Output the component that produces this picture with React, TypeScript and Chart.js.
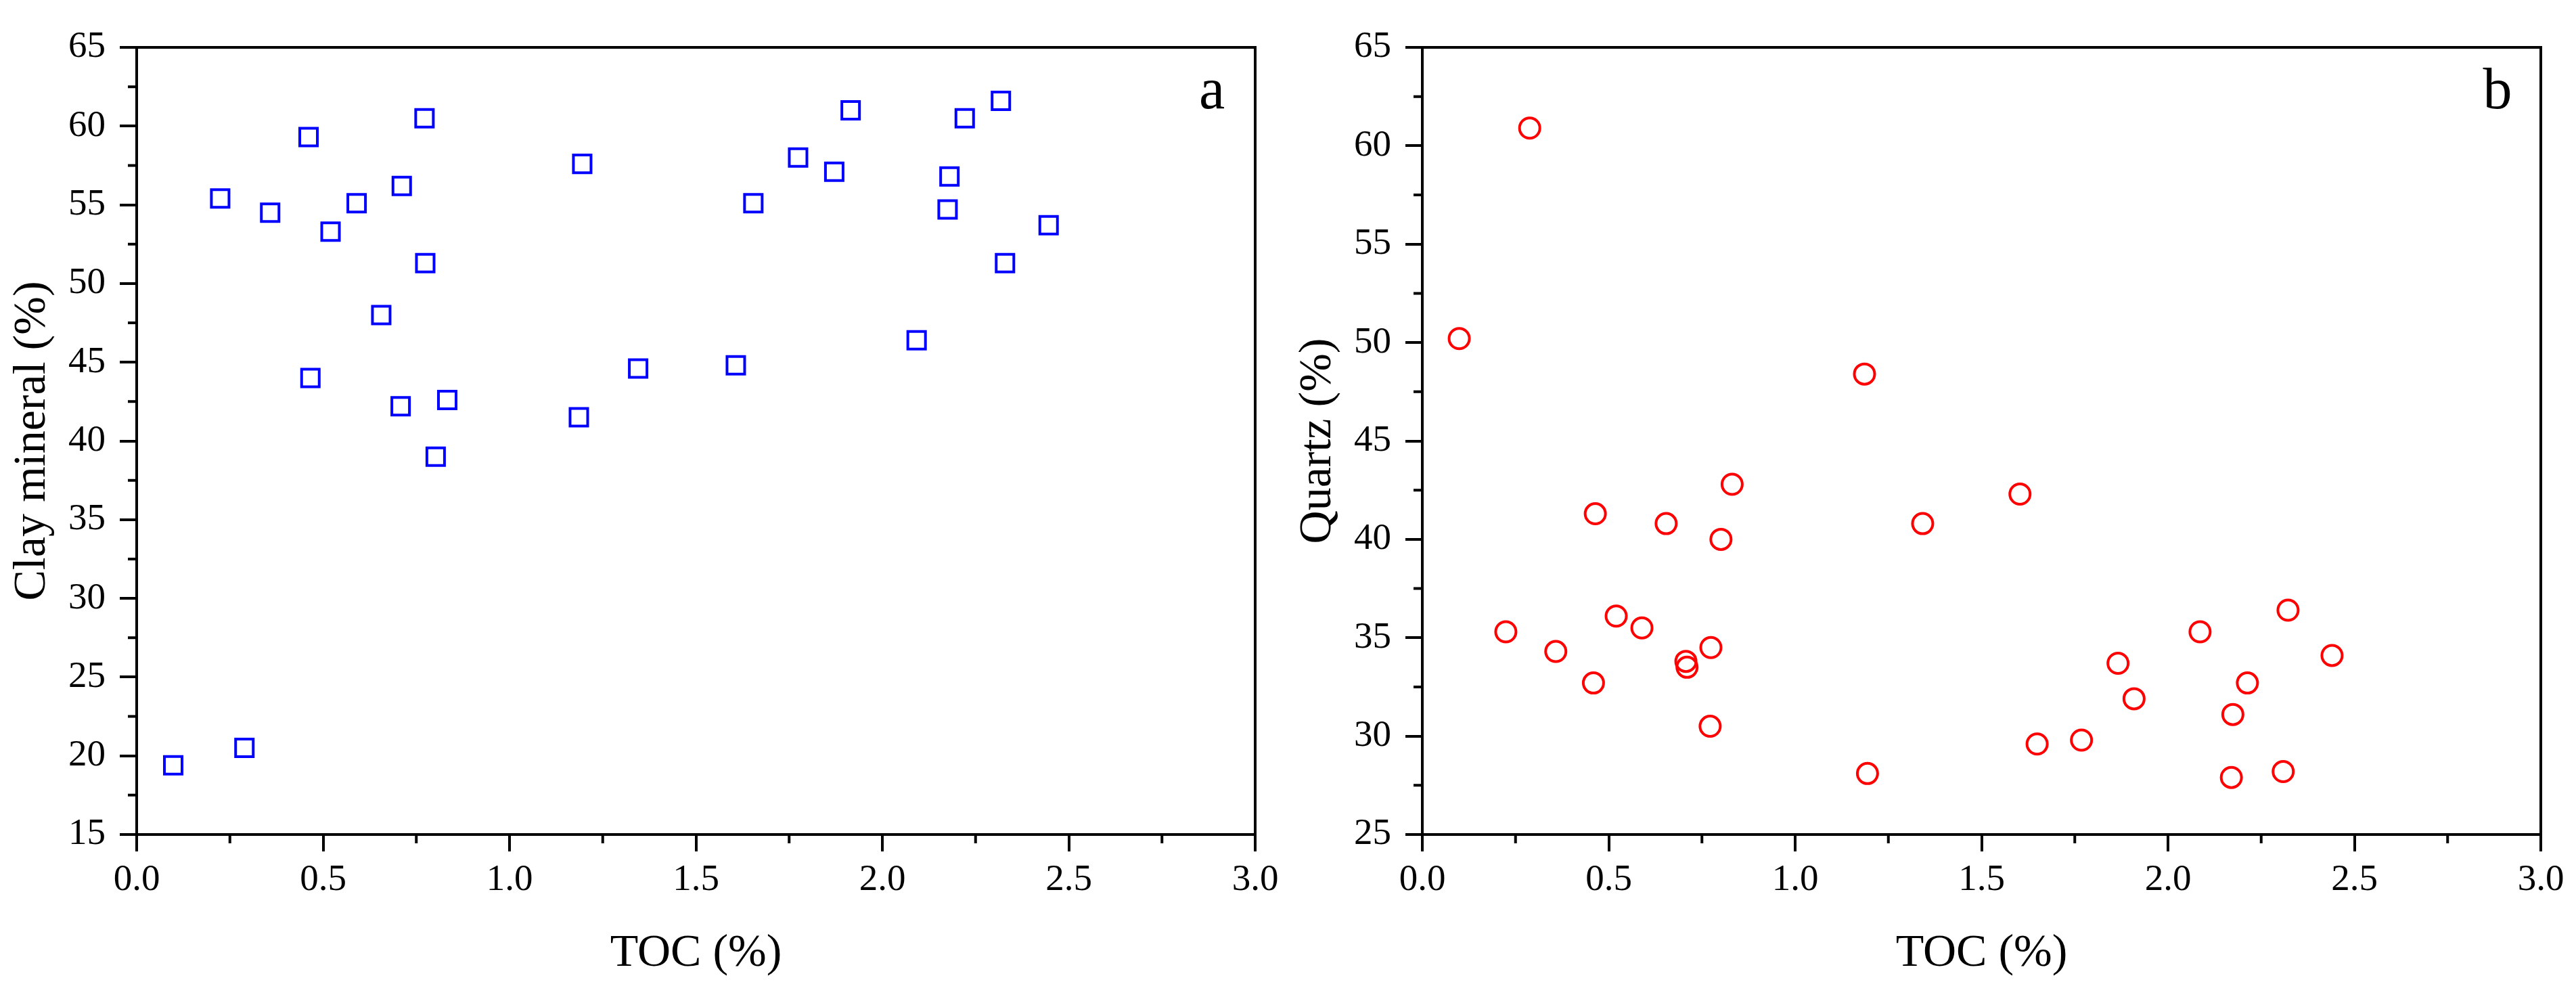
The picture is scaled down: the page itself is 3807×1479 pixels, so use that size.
import React, { useEffect, useRef } from 'react';
import { Chart, registerables } from 'chart.js';

Chart.register(...registerables);

// ---- Data ----
const tocClay = [0.098, 0.224, 0.289, 0.358, 0.461, 0.466, 0.52, 0.59, 0.656, 0.708, 0.711, 0.772, 0.774, 0.802, 0.833, 1.186, 1.195, 1.345, 1.607, 1.654, 1.774, 1.871, 1.915, 2.092, 2.175, 2.18, 2.221, 2.318, 2.329, 2.446];
const clayMineral = [19.4, 55.4, 20.5, 54.5, 59.3, 44.0, 53.3, 55.1, 48.0, 42.2, 56.2, 60.5, 51.3, 39.0, 42.6, 41.5, 57.6, 44.6, 44.8, 55.1, 58.0, 57.1, 61.0, 46.4, 54.7, 56.8, 60.5, 61.6, 51.3, 53.7];

const tocQuartz = [0.099, 0.224, 0.288, 0.358, 0.459, 0.464, 0.52, 0.589, 0.654, 0.707, 0.71, 0.772, 0.774, 0.801, 0.831, 1.186, 1.194, 1.342, 1.603, 1.649, 1.768, 1.866, 1.909, 2.086, 2.17, 2.174, 2.213, 2.309, 2.322, 2.44];
const quartz = [50.2, 35.3, 60.9, 34.3, 32.7, 41.3, 36.1, 35.5, 40.8, 33.8, 33.5, 30.5, 34.5, 40.0, 42.8, 48.4, 28.1, 40.8, 42.3, 29.6, 29.8, 33.7, 31.9, 35.3, 27.9, 31.1, 32.7, 28.2, 36.4, 34.1];

// ---- Tick definitions ----
const xMinorTicks = [0.25, 0.75, 1.25, 1.75, 2.25, 2.75];
const yMinorTicksClay = [17.5, 22.5, 27.5, 32.5, 37.5, 42.5, 47.5, 52.5, 57.5, 62.5];
const yMinorTicksQuartz = [27.5, 32.5, 37.5, 42.5, 47.5, 52.5, 57.5, 62.5];

const FONT = '"Liberation Serif", "Times New Roman", serif';

const framePlugin = {
  id: 'frame',
  afterDraw(chart: any, _args: any, opts: any) {
    const { ctx, chartArea: a, scales } = chart;
    ctx.save();
    ctx.strokeStyle = '#000';
    ctx.lineWidth = 4;
    ctx.lineJoin = 'miter';
    ctx.strokeRect(a.left, a.top, a.right - a.left, a.bottom - a.top);
    ctx.beginPath();
    for (const v of opts.xMinor || []) {
      const px = scales.x.getPixelForValue(v);
      ctx.moveTo(px, a.bottom);
      ctx.lineTo(px, a.bottom + 13);
    }
    for (const v of opts.yMinor || []) {
      const py = scales.y.getPixelForValue(v);
      ctx.moveTo(a.left, py);
      ctx.lineTo(a.left - 13, py);
    }
    ctx.stroke();
    ctx.fillStyle = '#000';
    ctx.font = '86px ' + FONT;
    ctx.textAlign = 'center';
    ctx.textBaseline = 'alphabetic';
    ctx.fillText(opts.letter, a.right - 64, a.top + 90);
    ctx.restore();
  },
};

function makeConfig(
  xs: number[],
  ys: number[],
  yMin: number,
  yMax: number,
  yTitle: string,
  color: string,
  style: string,
  radius: number,
  yMinor: number[],
  letter: string,
  padRight: number
): any {
  const tickFont = { family: FONT, size: 55 };
  return {
    type: 'scatter',
    data: {
      datasets: [
        {
          data: xs.map((x, i) => ({ x, y: ys[i] })),
          pointStyle: style,
          pointRadius: radius,
          pointHoverRadius: radius,
          pointBorderWidth: 4,
          pointBorderColor: color,
          pointBackgroundColor: 'rgba(0,0,0,0)',
          borderColor: color,
          backgroundColor: 'rgba(0,0,0,0)',
          showLine: false,
        },
      ],
    },
    options: {
      responsive: false,
      animation: false,
      devicePixelRatio: 1,
      layout: { padding: { left: 0, top: 70, right: padRight, bottom: 0 } },
      plugins: {
        legend: { display: false },
        tooltip: { enabled: false },
        frame: { xMinor: xMinorTicks, yMinor, letter },
      },
      scales: {
        x: {
          type: 'linear',
          min: 0,
          max: 3,
          afterFit: (s: any) => {
            s.height = 246;
          },
          ticks: {
            stepSize: 0.5,
            autoSkip: false,
            maxRotation: 0,
            padding: 10,
            color: '#000',
            font: tickFont,
            callback: (v: any) => Number(v).toFixed(1),
          },
          grid: {
            display: true,
            drawOnChartArea: false,
            drawTicks: true,
            tickLength: 25,
            tickWidth: 4,
            tickColor: '#000',
            lineWidth: 4,
            color: '#000',
          },
          border: { display: true, color: '#000', width: 4 },
          title: {
            display: true,
            text: 'TOC (%)',
            color: '#000',
            font: { family: FONT, size: 68 },
            padding: { top: 0, bottom: 29 },
          },
        },
        y: {
          type: 'linear',
          min: yMin,
          max: yMax,
          afterFit: (s: any) => {
            s.width = 202;
          },
          ticks: {
            stepSize: 5,
            autoSkip: false,
            padding: 21,
            color: '#000',
            font: tickFont,
            callback: (v: any) => String(v),
          },
          grid: {
            display: true,
            drawOnChartArea: false,
            drawTicks: true,
            tickLength: 25,
            tickWidth: 4,
            tickColor: '#000',
            lineWidth: 4,
            color: '#000',
          },
          border: { display: true, color: '#000', width: 4 },
          title: {
            display: true,
            text: yTitle,
            color: '#000',
            font: { family: FONT, size: 68 },
            padding: { top: 7, bottom: 0 },
          },
        },
      },
    },
    plugins: [framePlugin],
  };
}

function Panel(props: { config: any; left: number; width: number }) {
  const ref = useRef<HTMLCanvasElement | null>(null);
  useEffect(() => {
    if (!ref.current) return;
    const chart = new Chart(ref.current, props.config);
    return () => chart.destroy();
  }, []);
  return (
    <canvas
      ref={ref}
      width={props.width}
      height={1479}
      style={{ position: 'absolute', left: props.left, top: 0, width: props.width, height: 1479 }}
    />
  );
}

export default function App() {
  const configA = makeConfig(tocClay, clayMineral, 15, 65, 'Clay mineral (%)', '#0000FF', 'rect', 18.4, yMinorTicksClay, 'a', 45);
  const configB = makeConfig(tocQuartz, quartz, 25, 65, 'Quartz (%)', '#FF0000', 'circle', 15, yMinorTicksQuartz, 'b', 52);
  return (
    <div style={{ position: 'fixed', left: 0, top: 0, width: 3807, height: 1479, background: '#fff', overflow: 'hidden' }}>
      <Panel config={configA} left={0} width={1900} />
      <Panel config={configB} left={1900} width={1907} />
    </div>
  );
}
